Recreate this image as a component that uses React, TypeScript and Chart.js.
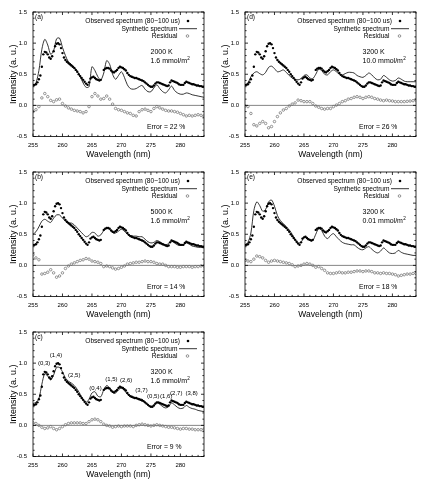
import React, { useEffect, useRef } from "react";
import { Chart, registerables } from "chart.js";

Chart.register(...registerables);

const FONT = "'Liberation Sans', Arial, Helvetica, sans-serif";

// Observed spectrum (shared by all panels), sampled from 255.0 nm every 0.25 nm
const OBS_START = 255;
const OBS_STEP = 0.25;
const OBSERVED: (number | null)[] = [
  0.33,
  0.33, 0.34, 0.37, 0.42,
  0.48, 0.62, 0.82, 0.86,
  0.85, 0.82, 0.77, 0.75,
  0.79, 0.87, 0.95, 0.99,
  1.0, 0.98, 0.92, 0.84,
  0.77, 0.73, 0.7, 0.68,
  0.66, 0.64, 0.62, 0.6,
  0.57, 0.54, 0.5, 0.47,
  0.44, 0.41, 0.38, 0.35,
  0.33, 0.37, 0.43, 0.45,
  0.46, 0.44, 0.42, 0.41,
  0.4, 0.41, null, 0.57,
  0.59, 0.6, 0.6, 0.59,
  0.56, 0.54, 0.53, 0.55,
  0.57, 0.6, 0.62, 0.61,
  0.6, 0.58, 0.56, 0.52,
  0.49, 0.47, 0.46, 0.45,
  0.44, 0.44, 0.43, 0.42,
  0.41, 0.4, 0.39, 0.37,
  0.35, 0.33, 0.31, 0.3,
  0.3, 0.32, 0.35, 0.37,
  0.37, 0.36, 0.35, 0.34,
  0.33, 0.32, 0.31, 0.32,
  0.37, 0.4, 0.39, 0.38,
  0.37, 0.36, 0.34, 0.33,
  0.33, 0.33, 0.36, 0.38,
  0.37, 0.36, 0.35, 0.34,
  0.34, 0.33, 0.32, 0.32,
  0.31, 0.31, 0.3, 0.3,
];

// Synthetic spectra and residuals, sampled from 255.0 nm every 0.5 nm
const FIT_START = 255;
const FIT_STEP = 0.5;

const SYN_A = [
  0.3, 0.36, 0.56, 0.9, 1.06, 0.97, 0.82, 0.88, 1.07, 1.08,
  0.93, 0.8, 0.7, 0.66, 0.61, 0.55, 0.46, 0.36, 0.29, 0.3,
  0.62, 0.56, 0.46, 0.41, 0.52, 0.72, 0.66, 0.5, 0.42, 0.48,
  0.54, 0.45, 0.33, 0.27, 0.26, 0.27, 0.3, 0.32, 0.26, 0.22,
  0.22, 0.28, 0.33, 0.27, 0.22, 0.2, 0.25, 0.31, 0.24, 0.2,
  0.18, 0.18, 0.2, 0.19, 0.17, 0.16, 0.15, 0.14, 0.13,
];
const RES_A = [
  -0.1, -0.07, -0.02, 0.12, 0.19, 0.14, 0.08, 0.06, 0.09, 0.1,
  0.03, -0.01, -0.04, -0.06, -0.08, -0.09, -0.1, -0.12, -0.1, -0.02,
  0.14, 0.19, 0.15, 0.1, 0.11, 0.15, 0.1, 0.02, -0.05, -0.07,
  -0.08, -0.1, -0.12, -0.13, -0.16, -0.17, -0.1, -0.07, -0.06, -0.08,
  -0.1, -0.05, -0.02, -0.04, -0.06, -0.08, -0.09, -0.09, -0.1, -0.11,
  -0.13, -0.15, -0.17, -0.16, -0.17, -0.16, -0.15, -0.16, -0.17,
];

const SYN_B = [
  0.5, 0.54, 0.62, 0.71, 0.74, 0.71, 0.69, 0.76, 0.81, 0.81,
  0.76, 0.71, 0.68, 0.68, 0.65, 0.6, 0.55, 0.5, 0.46, 0.48,
  0.53, 0.52, 0.47, 0.49, 0.56, 0.6, 0.58, 0.53, 0.52, 0.55,
  0.58, 0.55, 0.5, 0.48, 0.47, 0.47, 0.46, 0.46, 0.42, 0.38,
  0.36, 0.37, 0.4, 0.38, 0.35, 0.33, 0.35, 0.39, 0.36, 0.33,
  0.32, 0.33, 0.36, 0.34, 0.31, 0.3, 0.29, 0.29, 0.28,
];
const RES_B = [
  0.17, 0.12, 0.09, -0.14, -0.13, -0.11, -0.07, -0.12, -0.19, -0.17,
  -0.12, -0.05, -0.01, 0.02, 0.04, 0.06, 0.08, 0.09, 0.11, 0.1,
  0.07, 0.06, 0.05, 0.03, -0.02, -0.01, -0.02, -0.04, -0.06, -0.05,
  -0.03, -0.01, 0.02, 0.03, 0.04, 0.05, 0.05, 0.06, 0.07, 0.06,
  0.06, 0.05, 0.03, 0.02, 0.02, 0.0, -0.02, -0.02, -0.02, -0.03,
  -0.03, -0.02, -0.02, -0.02, -0.03, -0.02, -0.02, -0.01, -0.01,
];

const SYN_C = [
  0.35, 0.37, 0.43, 0.66, 0.83, 0.79, 0.73, 0.81, 0.93, 0.93,
  0.86, 0.76, 0.71, 0.68, 0.64, 0.58, 0.5, 0.42, 0.37, 0.42,
  0.52, 0.54, 0.47, 0.46, 0.57, 0.64, 0.6, 0.53, 0.52, 0.57,
  0.6, 0.56, 0.5, 0.46, 0.44, 0.43, 0.42, 0.42, 0.37, 0.33,
  0.3, 0.32, 0.36, 0.34, 0.3, 0.28, 0.3, 0.36, 0.33, 0.29,
  0.27, 0.28, 0.32, 0.29, 0.27, 0.26, 0.24, 0.23, 0.22,
];
const RES_C = [
  0.04, 0.03, 0.0, -0.03, -0.05, -0.04, -0.02, -0.05, -0.07, -0.05,
  -0.02, 0.01, 0.03, 0.04, 0.04, 0.04, 0.04, 0.03, 0.03, 0.06,
  0.09, 0.1, 0.09, 0.06, 0.02, 0.0, -0.01, -0.03, -0.02, -0.01,
  -0.02, -0.01, -0.01, -0.01, -0.02, 0.0, 0.01, 0.02, 0.01, 0.0,
  -0.01, 0.0, 0.01, 0.0, -0.01, -0.02, -0.03, -0.03, -0.04, -0.05,
  -0.06, -0.05, -0.05, -0.06, -0.06, -0.07, -0.07, -0.07, -0.06,
];

const SYN_D = [
  0.33, 0.36, 0.46, 0.52, 0.54, 0.51, 0.49, 0.53, 0.61, 0.63,
  0.59, 0.54, 0.55, 0.57, 0.53, 0.48, 0.44, 0.42, 0.41, 0.43,
  0.48, 0.49, 0.44, 0.43, 0.5, 0.58, 0.56, 0.5, 0.49, 0.54,
  0.57, 0.54, 0.5, 0.49, 0.51, 0.53, 0.53, 0.52, 0.48, 0.46,
  0.45, 0.48, 0.52, 0.49, 0.44, 0.41, 0.42, 0.48, 0.45, 0.41,
  0.39, 0.4, 0.44, 0.42, 0.39, 0.38, 0.38, 0.38, 0.38,
];
const RES_D = [
  -0.01, -0.02, -0.13, -0.31, -0.33, -0.29, -0.26, -0.29, -0.36, -0.34,
  -0.26, -0.18, -0.12, -0.075, -0.05, -0.01, 0.02, 0.04, 0.085, 0.075,
  0.06, 0.06, 0.06, 0.03, -0.01, -0.03, -0.05, -0.06, -0.05, -0.05,
  -0.02, 0.005, 0.03, 0.06, 0.075, 0.1, 0.11, 0.13, 0.14, 0.13,
  0.11, 0.13, 0.14, 0.13, 0.11, 0.1, 0.085, 0.075, 0.085, 0.075,
  0.07, 0.06, 0.06, 0.06, 0.06, 0.065, 0.07, 0.075, 0.085,
];

const SYN_E = [
  0.33, 0.37, 0.52, 0.88, 1.02, 0.96, 0.87, 0.9, 1.02, 1.05,
  0.95, 0.8, 0.72, 0.67, 0.62, 0.57, 0.5, 0.42, 0.36, 0.37,
  0.45, 0.45, 0.4, 0.4, 0.5, 0.59, 0.56, 0.47, 0.43, 0.48,
  0.51, 0.46, 0.41, 0.37, 0.35, 0.34, 0.33, 0.33, 0.29, 0.26,
  0.25, 0.28, 0.3, 0.26, 0.22, 0.2, 0.23, 0.28, 0.24, 0.2,
  0.19, 0.2, 0.24, 0.21, 0.19, 0.18, 0.17, 0.16, 0.16,
];
const RES_E = [
  0.08, 0.07, 0.06, 0.1, 0.15, 0.14, 0.12, 0.08, 0.05, 0.07,
  0.08, 0.07, 0.06, 0.05, 0.04, 0.03, 0.01, -0.02, -0.01, 0.0,
  0.02, 0.03, 0.02, 0.0, -0.03, -0.02, -0.05, -0.08, -0.12, -0.13,
  -0.13, -0.12, -0.11, -0.12, -0.12, -0.11, -0.11, -0.1, -0.09, -0.09,
  -0.1, -0.09, -0.09, -0.1, -0.12, -0.12, -0.13, -0.12, -0.13, -0.13,
  -0.14, -0.15, -0.17, -0.16, -0.15, -0.14, -0.14, -0.13, -0.13,
];

const PANEL_TAGS = ["(a)", "(b)", "(c)", "(d)", "(e)"];
const TEMPERATURES = ["2000 K", "5000 K", "3200 K", "3200 K", "3200 K"];
const DENSITIES = ["1.6", "1.6", "1.6", "10.0", "0.01"];
const ERRORS = ["22", "14", "9", "26", "18"];
const SYNTHETICS = [SYN_A, SYN_B, SYN_C, SYN_D, SYN_E];
const RESIDUALS = [RES_A, RES_B, RES_C, RES_D, RES_E];

// Vibrational band labels of panel (c)
const BAND_LABELS = ["(0,3)", "(1,4)", "(2,5)", "(0,4)", "(1,5)", "(2,6)", "(3,7)", "(0,5)", "(1,6)", "(2,7)", "(3,8)"];
const BAND_X = [256.9, 258.9, 262.0, 265.6, 268.3, 270.8, 273.4, 275.4, 277.6, 279.3, 281.9];
const BAND_Y = [1.0, 1.12, 0.8, 0.6, 0.745, 0.72, 0.557, 0.46, 0.46, 0.51, 0.51];

const LEGEND_OBS = "Observed spectrum (80~100 us)";
const LEGEND_SYN = "Synthetic spectrum";
const LEGEND_RES = "Residual";

const X_MIN = 255, X_MAX = 284, Y_MIN = -0.5, Y_MAX = 1.5;

// layout of panels on the page
const PANEL_POS = [
  { left: 0, top: 0 },
  { left: 0, top: 160 },
  { left: 0, top: 320 },
  { left: 212, top: 0 },
  { left: 212, top: 160 },
];

const RES_COLOR = "#6a6a6a";

const decorPlugin = {
  id: "decor",
  beforeDatasetsDraw(chart: any) {
    const { ctx, chartArea: a, scales } = chart;
    const y0 = scales.y.getPixelForValue(0);
    ctx.save();
    ctx.strokeStyle = "#777";
    ctx.lineWidth = 0.9;
    ctx.beginPath();
    ctx.moveTo(a.left, y0);
    ctx.lineTo(a.right, y0);
    ctx.stroke();
    ctx.restore();
  },
  afterDraw(chart: any, _args: any, opts: any) {
    const { ctx, chartArea: a, scales } = chart;
    const xs = scales.x, ys = scales.y;
    ctx.save();
    // frame
    ctx.strokeStyle = "#000";
    ctx.lineWidth = 0.8;
    ctx.strokeRect(a.left, a.top, a.right - a.left, a.bottom - a.top);
    // inward ticks on all four sides
    ctx.beginPath();
    for (let v = X_MIN; v <= X_MAX; v++) {
      const px = xs.getPixelForValue(v);
      const len = v % 5 === 0 ? 3 : 1.6;
      ctx.moveTo(px, a.bottom);
      ctx.lineTo(px, a.bottom - len);
      ctx.moveTo(px, a.top);
      ctx.lineTo(px, a.top + len);
    }
    for (let k = -5; k <= 15; k++) {
      const py = ys.getPixelForValue(k / 10);
      const len = k % 5 === 0 ? 3 : 1.6;
      ctx.moveTo(a.left, py);
      ctx.lineTo(a.left + len, py);
      ctx.moveTo(a.right, py);
      ctx.lineTo(a.right - len, py);
    }
    ctx.stroke();

    ctx.fillStyle = "#000";
    ctx.textBaseline = "middle";
    // panel tag
    ctx.font = `6.6px ${FONT}`;
    ctx.textAlign = "left";
    ctx.fillText(opts.tag, a.left + 2, a.top + 5.5);

    // legend
    ctx.textAlign = "right";
    ctx.font = `6.6px ${FONT}`;
    ctx.fillText(LEGEND_OBS, 180, 21);
    ctx.beginPath();
    ctx.arc(188, 21, 1.3, 0, Math.PI * 2);
    ctx.fill();
    ctx.fillText(LEGEND_SYN, 177.5, 28.7);
    ctx.beginPath();
    ctx.lineWidth = 0.8;
    ctx.moveTo(179, 28.7);
    ctx.lineTo(197, 28.7);
    ctx.stroke();
    ctx.fillText(LEGEND_RES, 177.5, 36);
    ctx.beginPath();
    ctx.strokeStyle = RES_COLOR;
    ctx.lineWidth = 0.7;
    ctx.arc(187.5, 36, 1.3, 0, Math.PI * 2);
    ctx.stroke();

    // conditions
    ctx.textAlign = "left";
    ctx.font = `7px ${FONT}`;
    ctx.fillText(opts.temp, 150.5, 51.7);
    const dens = `${opts.density} mmol/m`;
    ctx.fillText(dens, 150.5, 61.3);
    const w = ctx.measureText(dens).width;
    ctx.font = `4.6px ${FONT}`;
    ctx.fillText("2", 150.5 + w + 0.3, 58.6);
    ctx.font = `6.8px ${FONT}`;
    ctx.fillText(`Error = ${opts.error} %`, 147, 126.7);

    // band labels
    if (opts.bands) {
      ctx.textAlign = "center";
      ctx.font = `6px ${FONT}`;
      BAND_LABELS.forEach((t, i) => {
        ctx.fillText(t, xs.getPixelForValue(BAND_X[i]), ys.getPixelForValue(BAND_Y[i]));
      });
    }
    ctx.restore();
  },
};

function Panel({ index }: { index: number }) {
  const ref = useRef<HTMLCanvasElement | null>(null);
  useEffect(() => {
    const canvas = ref.current;
    if (!canvas) return;
    const obs = OBSERVED.map((v, i) => ({ x: OBS_START + i * OBS_STEP, y: v })).filter((p) => p.y !== null);
    const syn = SYNTHETICS[index].map((v, i) => ({ x: FIT_START + i * FIT_STEP, y: v }));
    const res = RESIDUALS[index].map((v, i) => ({ x: FIT_START + i * FIT_STEP, y: v }));
    const chart = new Chart(canvas, {
      type: "scatter",
      data: {
        datasets: [
          {
            label: "Observed",
            data: obs as any,
            pointRadius: 1.2,
            pointBackgroundColor: "#000",
            pointBorderWidth: 0,
            showLine: false,
          },
          {
            label: "Synthetic",
            data: syn,
            showLine: true,
            borderColor: "#000",
            borderWidth: 0.8,
            pointRadius: 0,
            tension: 0.3,
            fill: false,
          },
          {
            label: "Residual",
            data: res,
            pointRadius: 1.25,
            pointBackgroundColor: "rgba(255,255,255,0)",
            pointBorderColor: RES_COLOR,
            pointBorderWidth: 0.7,
            showLine: false,
          },
        ],
      },
      options: {
        responsive: false,
        animation: false,
        devicePixelRatio: 1,
        layout: { padding: { left: 0, top: 12, right: 8, bottom: 0 } },
        plugins: {
          legend: { display: false },
          tooltip: { enabled: false },
          decor: {
            tag: PANEL_TAGS[index],
            temp: TEMPERATURES[index],
            density: DENSITIES[index],
            error: ERRORS[index],
            bands: index === 2,
          },
        } as any,
        scales: {
          x: {
            type: "linear",
            min: X_MIN,
            max: X_MAX,
            afterFit: (s: any) => {
              s.height = 23.5;
            },
            grid: { display: false, drawTicks: false },
            border: { display: false },
            ticks: {
              stepSize: 5,
              includeBounds: false,
              padding: 5,
              color: "#000",
              maxRotation: 0,
              autoSkip: false,
              font: { family: FONT, size: 6 },
              callback: (v: any) => String(v),
            },
            title: {
              display: true,
              text: "Wavelength (nm)",
              color: "#000",
              font: { family: FONT, size: 8.5 },
              padding: { top: 0, bottom: 0 },
            },
          },
          y: {
            type: "linear",
            min: Y_MIN,
            max: Y_MAX,
            afterFit: (s: any) => {
              s.width = 33;
            },
            grid: { display: false, drawTicks: false },
            border: { display: false },
            ticks: {
              stepSize: 0.5,
              includeBounds: false,
              padding: 6,
              color: "#000",
              autoSkip: false,
              font: { family: FONT, size: 6 },
              callback: (v: any) => Number(v).toFixed(1),
            },
            title: {
              display: true,
              text: "Intensity (a. u.)",
              color: "#000",
              font: { family: FONT, size: 9 },
              padding: { top: 8, bottom: 0 },
            },
          },
        },
      },
      plugins: [decorPlugin],
    });
    return () => chart.destroy();
  }, [index]);
  const pos = PANEL_POS[index];
  return (
    <canvas
      ref={ref}
      width={212}
      height={160}
      style={{ position: "absolute", left: pos.left, top: pos.top, width: 212, height: 160 }}
    />
  );
}

export default function App() {
  return (
    <div style={{ position: "absolute", left: 0, top: 0, width: 424, height: 490, background: "#fff" }}>
      {PANEL_TAGS.map((_, i) => (
        <Panel key={i} index={i} />
      ))}
    </div>
  );
}
